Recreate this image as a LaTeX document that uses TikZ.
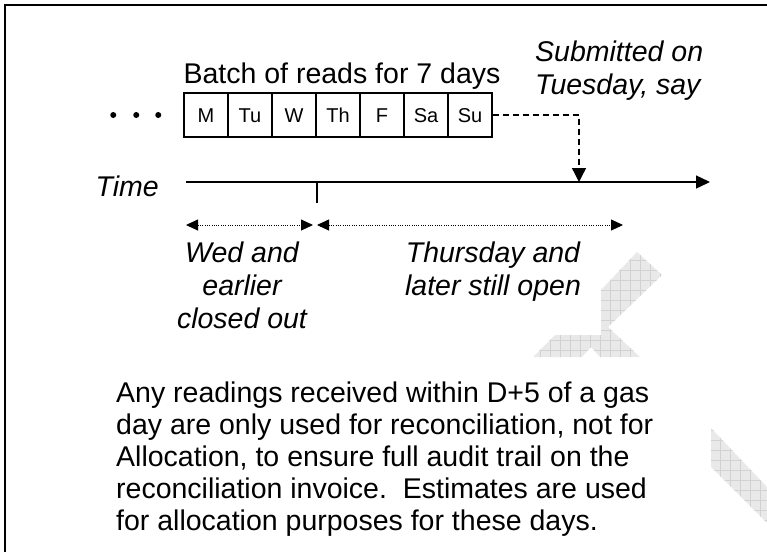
\documentclass[tikz,border=0pt]{standalone}
\usepackage{fontspec}
\setmainfont{Liberation Sans}
\usetikzlibrary{positioning, arrows.meta}

\tikzset{
    day/.style={draw, line width=1.1pt, minimum width=44pt, minimum height=44pt, inner sep=0pt, text height=14.3pt, text depth=0pt, font=\fontsize{20}{24}\selectfont},
    dot/.style={circle, fill, minimum size=6pt, inner sep=0pt},
    lbl/.style={inner sep=0pt, font=\fontsize{28.5}{33}\selectfont\itshape},
    txt/.style={inner sep=0pt, font=\fontsize{28.5}{32}\selectfont},
    spanarrow/.style={line width=0.9pt, dash pattern=on 1pt off 1.3pt, {Triangle[length=12pt,width=11pt]}-{Triangle[length=12pt,width=11pt]}},
    wmark/.style={fill=gray!17},
    wgrid/.style={draw=gray!35, line width=0.6pt}
}

\begin{document}
\begin{tikzpicture}[x=1pt, y=-1pt, on grid, node distance=44pt]
    \useasboundingbox (0,0) rectangle (767,552);
    \begin{scope}
        \clip (637,252) -- (662,275) -- (608,327) -- (640,357) -- (600,357) -- (591,347) -- (582,357) -- (533,357) -- (555,335) -- (601,335) -- (601,290) -- cycle;
        \fill[wmark] (520,240) rectangle (680,370);
        \draw[wgrid, step=10pt] (520,240) grid (680,370);
    \end{scope}
    \begin{scope}
        \clip (711,428) -- (767,487) -- (767,523) -- (711,467) -- cycle;
        \fill[wmark] (700,420) rectangle (767,530);
        \draw[wgrid, step=10pt] (700,420) grid (767,530);
    \end{scope}
    \draw[line width=2.4pt] (767,5) -- (5,5) -- (5,552);

    \node[day] (mon) at (206,115) {M};
    \node[day] (tue) [right=of mon] {Tu};
    \node[day] (wed) [right=of tue] {W};
    \node[day] (thu) [right=of wed] {Th};
    \node[day] (fri) [right=of thu] {F};
    \node[day] (sat) [right=of fri] {Sa};
    \node[day] (sun) [right=of sat] {Su};
    \node[dot] (d3) [left=22pt of mon.west] {};
    \node[dot] (d2) [left=22pt of d3] {};
    \node[dot] (d1) [left=23pt of d2] {};
    \node[txt, anchor=base] (batch) at (342,83) {Batch of reads for 7 days};
    \node[lbl, anchor=base west, align=left] (subm) at (535,94) {Submitted on\\Tuesday, say};

    \node[lbl, anchor=base east] (time) at (159,196) {Time};
    \coordinate (t0) at (186,182);
    \coordinate (t1) at (710,182);
    \coordinate (tick) at (317,182);
    \coordinate (tickend) at (317,203);
    \coordinate (drop) at (579,182);
    \draw[line width=1.3pt, -{Triangle[length=14pt,width=13pt]}] (t0) -- (t1);
    \draw[line width=1.3pt] (tick) -- (tickend);
    \draw[line width=1.3pt, dash pattern=on 6pt off 4pt, -{Triangle[length=14pt,width=14pt]}] (sun.east) -| (drop);

    \coordinate (a0) at (186,225);
    \coordinate (a1) at (313,225);
    \coordinate (b0) at (317,225);
    \coordinate (b1) at (623,225);
    \draw[spanarrow] (a0) -- (a1);
    \draw[spanarrow] (b0) -- (b1);
    \node[lbl, anchor=base, align=center] (closed) at (242,328) {Wed and\\earlier\\closed out};
    \node[lbl, anchor=base, align=center] (open) at (493,295) {Thursday and\\later still open};

    \node[txt, anchor=base west, align=left] (note) at (116,530) {Any readings received within D+5 of a gas\\day are only used for reconciliation, not for\\Allocation, to ensure full audit trail on the\\reconciliation invoice.\ \ Estimates are used\\for allocation purposes for these days.};
\end{tikzpicture}
\end{document}
